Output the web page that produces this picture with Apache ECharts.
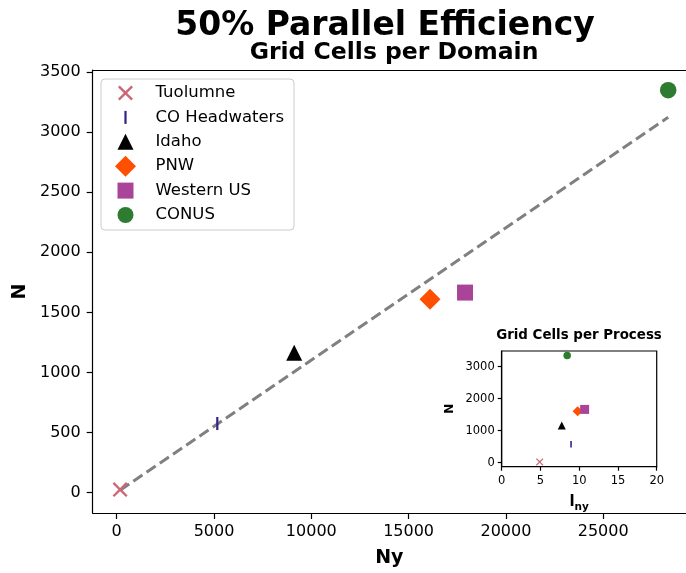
<!DOCTYPE html>
<html>
<head>
<meta charset="utf-8">
<script src="https://cdn.jsdelivr.net/npm/echarts@6/dist/echarts.min.js"></script>
<style>
html,body{margin:0;padding:0;background:#fff;}
#chart{width:686px;height:573px;}
</style>
</head>
<body>
<div id="chart"></div>
<script>
// ---- data ----
const datasets = ['Tuolumne', 'CO Headwaters', 'Idaho', 'PNW', 'Western US', 'CONUS'];
const domainNy = [175, 5170, 9120, 16100, 17900, 28340];   // grid cells per domain (x)
const cellsN   = [25, 575, 1165, 1610, 1665, 3350];        // N (y)
const processLny = [4.9, 8.95, 7.75, 9.8, 10.7, 8.45];     // grid cells per process (inset x)
const fitNy = [175, 28340];                                 // 50% efficiency line
const fitN  = [19, 3124];
const mainXTicks = [0, 5000, 10000, 15000, 20000, 25000];
const mainYTicks = [0, 500, 1000, 1500, 2000, 2500, 3000, 3500];
const insetXTicks = [0, 5, 10, 15, 20];
const insetYTicks = [0, 1000, 2000, 3000];

// ---- styles ----
const colors = ['#cc6677', '#332288', '#000000', '#fe5000', '#aa4499', '#2e7b32'];
const FONT = 'DejaVu Sans';
const xPoly = [[1.1,0],[5,3.9],[8.9,0],[10,1.1],[6.1,5],[10,8.9],[8.9,10],[5,6.1],[1.1,10],[0,8.9],[3.9,5],[0,1.1]];
function polyPath(pts, size, box) {
  const c = box / 2, s = size / 10;
  let d = 'path://M0,0M' + box + ',' + box;
  pts.forEach((p, i) => {
    d += (i === 0 ? 'M' : 'L') + (c + (p[0] - 5) * s).toFixed(2) + ',' + (c + (p[1] - 5) * s).toFixed(2);
  });
  return d + 'Z';
}
const symX = 'path://' + xPoly.map((p, i) => (i ? 'L' : 'M') + p[0] + ',' + p[1]).join('') + 'Z';
const symBar = 'path://M0,0L1,0L1,10L0,10Z';
const mainSymbols = [symX, symBar, 'triangle', 'diamond', 'rect', 'circle'];
const mainSizes = [15, [2.2, 13], 16, 21, 16, 16.5];
const insetSizes = [7.5, [1.6, 6.5], 8, 10, 9, 7.5];

const BOX = 21;
const legendIcons = [
  polyPath(xPoly, 15, BOX),
  polyPath([[4.15,0],[5.85,0],[5.85,10],[4.15,10]], 13, BOX),
  polyPath([[5,0],[10,10],[0,10]], 16, BOX),
  polyPath([[5,0],[10,5],[5,10],[0,5]], 21, BOX),
  polyPath([[0,0],[10,0],[10,10],[0,10]], 16, BOX),
  'path://M0,0M21,21M2.5,10.5A8,8 0 1 0 18.5,10.5A8,8 0 1 0 2.5,10.5Z'
];

const series = [{
  type: 'line', xAxisIndex: 0, yAxisIndex: 0, silent: true, z: 1,
  data: fitNy.map((x, i) => [x, fitN[i]]),
  symbol: 'none',
  lineStyle: { color: '#808080', width: 3, type: [11, 5] }
}];
datasets.forEach((name, i) => {
  series.push({
    type: 'scatter', name: name, xAxisIndex: 0, yAxisIndex: 0, z: 3,
    symbol: mainSymbols[i], symbolSize: mainSizes[i],
    itemStyle: { color: colors[i], opacity: 1 },
    data: [[domainNy[i], cellsN[i]]]
  });
  series.push({
    type: 'scatter', name: name, xAxisIndex: 2, yAxisIndex: 1, z: 5,
    symbol: mainSymbols[i], symbolSize: insetSizes[i],
    itemStyle: { color: colors[i], opacity: 1 },
    data: [[processLny[i], cellsN[i]]]
  });
});

const plain = v => String(v);
const axisCommon = (fs, tickLen, margin) => ({
  axisLine: { show: true, onZero: false, lineStyle: { color: '#000', width: 1.2 } },
  axisTick: { show: true, inside: false, length: tickLen, lineStyle: { color: '#000', width: 1.2 } },
  axisLabel: { color: '#000', fontSize: fs, fontFamily: FONT, margin: margin, formatter: plain },
  splitLine: { show: false }
});

const option = {
  backgroundColor: '#ffffff',
  animation: false,
  title: [
    { text: '50% Parallel Efficiency', left: 385, top: 10.3, textAlign: 'center', padding: 0,
      textStyle: { fontSize: 33, fontWeight: 'bold', fontFamily: FONT, color: '#000' } },
    { text: 'Grid Cells per Domain', left: 394, top: 41, textAlign: 'center', padding: 0,
      textStyle: { fontSize: 23.5, fontWeight: 'bold', fontFamily: FONT, color: '#000' } },
    { text: 'Grid Cells per Process', left: 579, top: 329, textAlign: 'center', padding: 0,
      textStyle: { fontSize: 13.4, fontWeight: 'bold', fontFamily: FONT, color: '#000' } }
  ],
  legend: {
    orient: 'vertical', left: 101, top: 79,
    padding: [3.5, 10, 4.5, 14],
    itemWidth: 28, itemHeight: BOX, itemGap: 3.4,
    symbolKeepAspect: true,
    backgroundColor: 'rgba(255,255,255,0.85)',
    borderColor: '#cccccc', borderWidth: 1, borderRadius: 4,
    textStyle: { fontSize: 16.5, fontFamily: FONT, color: '#000', padding: [0, 0, 0, 11] },
    selectedMode: false,
    data: datasets.map((n, i) => ({ name: n, icon: legendIcons[i] }))
  },
  grid: [
    { left: 92.7, top: 70, right: 0, bottom: 54.7, containLabel: false, show: false },
    { left: 501.7, top: 351, right: 29.3, bottom: 106.3, containLabel: false,
      show: true, borderColor: '#000', borderWidth: 1.2, backgroundColor: '#ffffff' }
  ],
  xAxis: [
    Object.assign(axisCommon(16, 6, 11), {
      type: 'value', gridIndex: 0, min: -1233, max: 29255, position: 'bottom',
      name: 'Ny', nameLocation: 'middle', nameGap: 36,
      nameTextStyle: { fontSize: 19, fontWeight: 'bold', fontFamily: FONT, color: '#000' }
    }),
    {
      type: 'value', gridIndex: 0, min: -1233, max: 29255, position: 'top',
      axisLine: { show: true, onZero: false, lineStyle: { color: '#000', width: 1.2 } },
      axisTick: { show: false }, axisLabel: { show: false }, splitLine: { show: false }
    },
    Object.assign(axisCommon(11.5, 4, 8), {
      type: 'value', gridIndex: 1, min: 0, max: 20,
      name: '{a|l}{b|ny}', nameLocation: 'middle', nameGap: 28,
      nameTextStyle: {
        color: '#000', fontFamily: FONT,
        rich: {
          a: { fontSize: 15, fontWeight: 'bold', fontFamily: FONT, color: '#000', verticalAlign: 'top', lineHeight: 15 },
          b: { fontSize: 10.5, fontWeight: 'bold', fontFamily: FONT, color: '#000', verticalAlign: 'top', lineHeight: 11, padding: [7, 0, 0, 0] }
        }
      }
    })
  ],
  yAxis: [
    Object.assign(axisCommon(16, 6, 12), {
      type: 'value', gridIndex: 0, min: -170, max: 3518,
      name: 'N', nameLocation: 'middle', nameGap: 54,
      nameTextStyle: { fontSize: 19, fontWeight: 'bold', fontFamily: FONT, color: '#000' }
    }),
    Object.assign(axisCommon(11.5, 4, 7), {
      type: 'value', gridIndex: 1, min: -125, max: 3490,
      name: 'N', nameLocation: 'middle', nameGap: 46,
      nameTextStyle: { fontSize: 12, fontWeight: 'bold', fontFamily: FONT, color: '#000' }
    })
  ],
  series: series
};
option.xAxis[0].axisTick.customValues = mainXTicks;
option.xAxis[0].axisLabel.customValues = mainXTicks;
option.yAxis[0].axisTick.customValues = mainYTicks;
option.yAxis[0].axisLabel.customValues = mainYTicks;
option.xAxis[2].axisTick.customValues = insetXTicks;
option.xAxis[2].axisLabel.customValues = insetXTicks;
option.yAxis[1].axisTick.customValues = insetYTicks;
option.yAxis[1].axisLabel.customValues = insetYTicks;

const chart = echarts.init(document.getElementById('chart'), null, { renderer: 'canvas' });
chart.setOption(option);
</script>
</body>
</html>
